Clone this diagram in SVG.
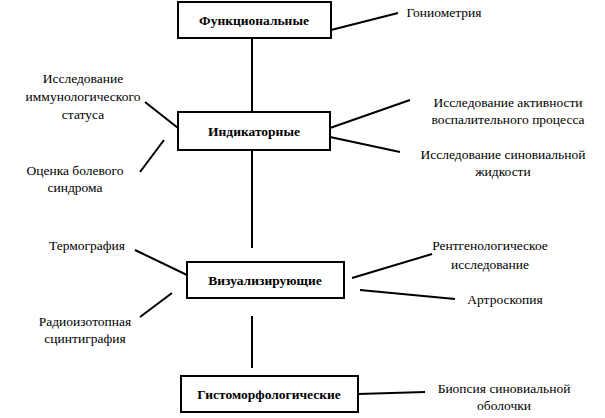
<svg xmlns="http://www.w3.org/2000/svg" width="605" height="418" viewBox="0 0 605 418">
<style>
.b{fill:#fff;stroke:#000;stroke-width:2}
.t{font-family:'Liberation Serif','Times New Roman','DejaVu Serif',serif;font-size:13.5px;text-anchor:middle}
.h{font-weight:bold}
#c line{stroke:#000;stroke-width:2}
</style>
<rect width="605" height="418" fill="#fff"/>
<g id="c">
<line x1="252" y1="38" x2="252" y2="112"/>
<line x1="252" y1="150" x2="252" y2="248"/>
<line x1="252" y1="316" x2="252" y2="368"/>
<line x1="331" y1="30" x2="398" y2="13"/>
<line x1="145" y1="102" x2="178" y2="128"/>
<line x1="140" y1="172" x2="164" y2="140"/>
<line x1="330" y1="128" x2="410" y2="100"/>
<line x1="330" y1="137" x2="400" y2="152"/>
<line x1="135" y1="250" x2="187" y2="275"/>
<line x1="140" y1="317" x2="172" y2="293"/>
<line x1="352" y1="278" x2="432" y2="254"/>
<line x1="360" y1="290" x2="455" y2="299"/>
<line x1="358" y1="394" x2="425" y2="392"/>
</g>
<g id="n1"><rect class="b" x="178" y="2" width="153" height="36"/><text class="t h" x="254" y="25">Функциональные</text></g>
<g id="n2"><rect class="b" x="178" y="112" width="152" height="38"/><text class="t h" x="254" y="136">Индикаторные</text></g>
<g id="n3"><rect class="b" x="187" y="262" width="157" height="36"/><text class="t h" x="265" y="285">Визуализирующие</text></g>
<g id="n4"><rect class="b" x="181" y="376" width="177" height="36"/><text class="t h" x="269" y="399">Гистоморфологические</text></g>
<g id="labels">
<text class="t" x="83" y="83">Исследование</text>
<text class="t" x="83" y="101">иммунологического</text>
<text class="t" x="83" y="119">статуса</text>
<text class="t" x="444" y="17">Гониометрия</text>
<text class="t" x="75" y="175">Оценка болевого</text>
<text class="t" x="75" y="192">синдрома</text>
<text class="t" x="508" y="107">Исследование активности</text>
<text class="t" x="508" y="124">воспалительного процесса</text>
<text class="t" x="503" y="159">Исследование синовиальной</text>
<text class="t" x="503" y="176">жидкости</text>
<text class="t" x="87" y="250">Термография</text>
<text class="t" x="85" y="326">Радиоизотопная</text>
<text class="t" x="85" y="343">сцинтиграфия</text>
<text class="t" x="490" y="250">Рентгенологическое</text>
<text class="t" x="490" y="269">исследование</text>
<text class="t" x="505" y="304">Артроскопия</text>
<text class="t" x="504" y="393">Биопсия синовиальной</text>
<text class="t" x="504" y="410">оболочки</text>
</g>
</svg>
